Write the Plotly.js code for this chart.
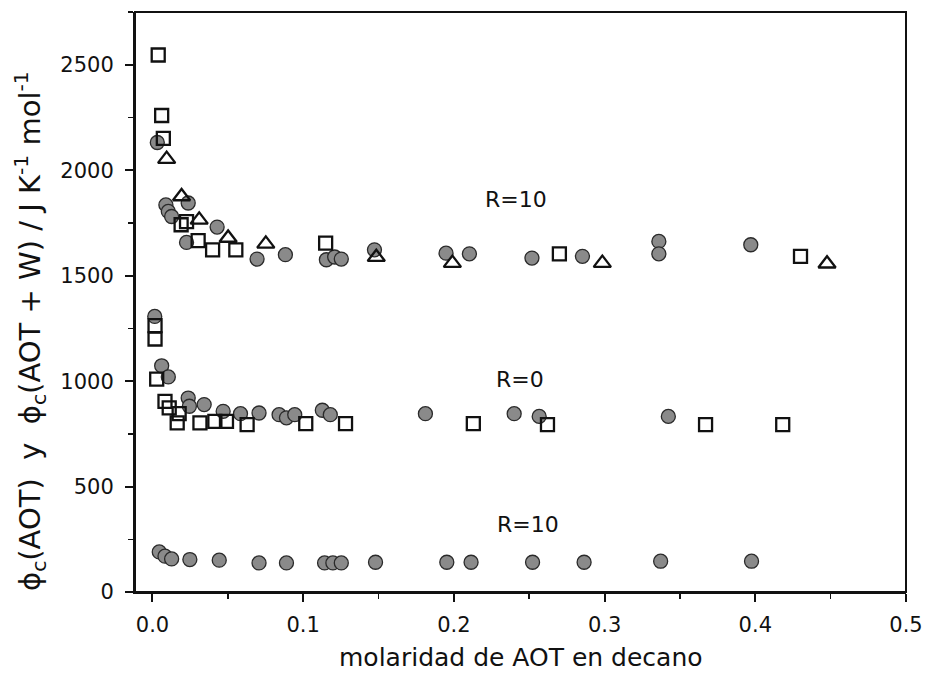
<!DOCTYPE html>
<html>
<head>
<meta charset="utf-8">
<script src="https://cdn.plot.ly/plotly-3.0.1.min.js"></script>
<style>
  html, body { margin: 0; padding: 0; background: #fff; }
  #chart { width: 927px; height: 685px; }
</style>
</head>
<body>
<div id="chart"></div>
<script>
// Heat capacity (φc) vs. AOT molarity in decane

// R = 10, φc(AOT + W): filled circles
const r10wCircleX = [0.0032, 0.0089, 0.0105, 0.0127, 0.0237, 0.0226, 0.0429, 0.0694, 0.0882,
                     0.1154, 0.1209, 0.1253, 0.1473, 0.1948, 0.2103, 0.2518, 0.2853, 0.3360, 0.3360, 0.3970];
const r10wCircleY = [2132, 1836, 1805, 1781, 1845, 1658, 1731, 1579, 1600,
                     1576, 1589, 1579, 1623, 1607, 1604, 1584, 1592, 1663, 1604, 1647];

// R = 10, φc(AOT + W): open squares
const r10wSquareX = [0.0038, 0.0061, 0.0072, 0.0190, 0.0226, 0.0303, 0.0399, 0.0553, 0.1149, 0.2700, 0.4300];
const r10wSquareY = [2547, 2260, 2152, 1742, 1757, 1667, 1623, 1623, 1655, 1604, 1592];

// R = 10, φc(AOT + W): open triangles
const r10wTriX = [0.0094, 0.0193, 0.0310, 0.0502, 0.0752, 0.1485, 0.1990, 0.2985, 0.4476];
const r10wTriY = [2053, 1876, 1765, 1679, 1651, 1588, 1560, 1560, 1557];

// R = 0, φc(AOT): filled circles
const r0CircleX = [0.0015, 0.0061, 0.0105, 0.0237, 0.0245, 0.0343, 0.0469, 0.0584, 0.0707, 0.0840,
                   0.0889, 0.0944, 0.1127, 0.1180, 0.1811, 0.2400, 0.2566, 0.3423];
const r0CircleY = [1307, 1073, 1020, 920, 881, 889, 857, 846, 849, 841,
                   826, 841, 862, 841, 846, 846, 833, 833];

// R = 0, φc(AOT): open squares
const r0SquareX = [0.0017, 0.0017, 0.0028, 0.0083, 0.0111, 0.0177, 0.0164, 0.0315, 0.0414, 0.0491,
                   0.0628, 0.1017, 0.1281, 0.2129, 0.2621, 0.3670, 0.4182];
const r0SquareY = [1263, 1200, 1010, 904, 873, 846, 802, 802, 809, 809,
                   794, 799, 799, 799, 794, 794, 794];

// R = 10, φc(AOT): filled circles
const r10CircleX = [0.0045, 0.0083, 0.0127, 0.0248, 0.0443, 0.0707, 0.0889, 0.1142, 0.1197, 0.1253,
                    0.1480, 0.1953, 0.2114, 0.2522, 0.2864, 0.3372, 0.3975];
const r10CircleY = [190, 170, 157, 154, 151, 138, 138, 138, 138, 138,
                    141, 141, 141, 141, 141, 146, 146];

// Axis ticks
const xTickVals = [0.0, 0.1, 0.2, 0.3, 0.4, 0.5];
const xTickText = ['0.0', '0.1', '0.2', '0.3', '0.4', '0.5'];
const yTickVals = [0, 500, 1000, 1500, 2000, 2500];
const yTickText = ['0', '500', '1000', '1500', '2000', '2500'];

const FONT = '"DejaVu Sans", "Liberation Sans", Arial, sans-serif';
const INK = '#111';

const circleMarker = { symbol: 'circle', size: 14, color: '#8a8a8a', line: { color: '#2a2a2a', width: 1.3 } };
const squareMarker = { symbol: 'square-open', size: 13, color: '#111', line: { width: 2.3 } };
const triMarker = { symbol: 'triangle-up-open', size: 15, color: '#111', line: { width: 2.3 } };

function series(x, y, marker) {
  return { x: x, y: y, type: 'scatter', mode: 'markers', marker: marker, hoverinfo: 'skip', showlegend: false };
}

const data = [
  series(r10wCircleX, r10wCircleY, circleMarker),
  series(r0CircleX, r0CircleY, circleMarker),
  series(r10CircleX, r10CircleY, circleMarker),
  series(r10wSquareX, r10wSquareY, squareMarker),
  series(r0SquareX, r0SquareY, squareMarker),
  series(r10wTriX, r10wTriY, triMarker)
];

const labelFont = { family: FONT, size: 22, color: INK };

const axisCommon = {
  ticks: 'outside',
  ticklen: 8,
  tickwidth: 2,
  tickcolor: INK,
  showline: true,
  linecolor: INK,
  linewidth: 2,
  showgrid: false,
  zeroline: false,
  tickfont: { family: FONT, size: 21, color: INK }
};

const layout = {
  width: 927,
  height: 685,
  paper_bgcolor: '#fff',
  plot_bgcolor: '#fff',
  margin: { l: 135, r: 21, t: 12, b: 93 },
  showlegend: false,
  font: { family: FONT, color: INK },
  xaxis: Object.assign({}, axisCommon, {
    range: [-0.0116, 0.5],
    tickvals: xTickVals,
    ticktext: xTickText,
    ticklabelstandoff: 5,
    minor: { dtick: 0.05, tick0: 0, ticks: 'outside', ticklen: 5, tickwidth: 1.5, tickcolor: INK }
  }),
  yaxis: Object.assign({}, axisCommon, {
    range: [0, 2751],
    tickvals: yTickVals,
    ticktext: yTickText,
    ticklabelstandoff: 7,
    minor: { dtick: 250, tick0: 0, ticks: 'outside', ticklen: 5, tickwidth: 1.5, tickcolor: INK }
  }),
  shapes: [
    // closed frame around the plotting area
    { type: 'rect', xref: 'paper', yref: 'paper', x0: 0, x1: 1, y0: 0, y1: 1,
      line: { color: INK, width: 2 }, fillcolor: 'rgba(0,0,0,0)', layer: 'above' }
  ],
  annotations: [
    { x: 0.2415, y: 1860, xref: 'x', yref: 'y', text: 'R=10', showarrow: false, font: labelFont },
    { x: 0.2440, y: 1007, xref: 'x', yref: 'y', text: 'R=0', showarrow: false, font: labelFont },
    { x: 0.2490, y: 318, xref: 'x', yref: 'y', text: 'R=10', showarrow: false, font: labelFont },
    // axis titles
    { x: 0.5, y: 0, xref: 'paper', yref: 'paper', yshift: -65, xanchor: 'center', yanchor: 'middle',
      text: 'molaridad de AOT en decano', showarrow: false,
      font: { family: FONT, size: 25, color: INK } },
    { x: 0, y: 0.45, xref: 'paper', yref: 'paper', xshift: -105, xanchor: 'center', yanchor: 'middle',
      textangle: -90, showarrow: false,
      text: 'ϕ<sub>c</sub>(AOT)&nbsp; y &nbsp;ϕ<sub>c</sub>(AOT + W) / J K<sup>-1</sup> mol<sup>-1</sup>',
      font: { family: FONT, size: 29, color: INK } }
  ]
};

Plotly.newPlot('chart', data, layout, { displayModeBar: false, staticPlot: true });
</script>
</body>
</html>
